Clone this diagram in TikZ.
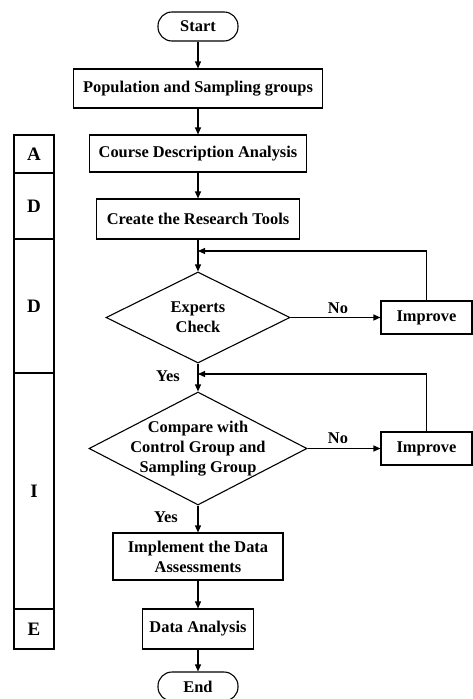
\documentclass[tikz,border=0pt]{standalone}
\usepackage{fontspec}
\setmainfont{Liberation Serif}
\usetikzlibrary{shapes.geometric,arrows.meta}
\tikzset{
  txt/.style={font=\bfseries\fontsize{16.4}{20}\selectfont},
  box/.style={draw, txt, line width=1.1pt, align=center, inner sep=2pt},
  term/.style={box, rounded corners=14pt, minimum width=80pt, minimum height=29pt},
  decision/.style={draw, diamond, txt, line width=1.1pt, align=center, inner sep=-8pt, aspect=1.95},
  phase/.style={draw, line width=1.4pt, minimum width=40pt, font=\bfseries\fontsize{19}{20}\selectfont},
  flow/.style={-{Triangle[length=7pt,width=6pt]}, line width=1.1pt}
}
\begin{document}
\begin{tikzpicture}[x=1pt, y=-1pt]
        \useasboundingbox (0,0) rectangle (473,699);

        % main column
        \draw (198, 26.5) node[term] (start) {Start};
        \draw (198, 88.5) node[box, minimum width=249pt, minimum height=39pt] (pop) {Population and Sampling groups};
        \draw (198, 153.5) node[box, minimum width=217pt, minimum height=37pt] (course) {Course Description Analysis};
        \draw (198, 219) node[box, minimum width=203pt, minimum height=40pt] (tools) {Create the Research Tools};
        \draw (198, 317.5) node[decision, minimum width=184pt, minimum height=91pt] (check) {Experts\\Check};
        \draw (198, 448.5) node[decision, minimum width=218pt, minimum height=113pt] (compare) {Compare with\\Control Group and\\Sampling Group};
        \draw (198, 556.5) node[box, minimum width=170pt, minimum height=47pt] (impl) {Implement the Data\\Assessments};
        \draw (198, 629) node[box, minimum width=111pt, minimum height=40pt] (data) {Data Analysis};
        \draw (198, 686.5) node[term] (end) {End};

        % feedback
        \draw (426.5, 317.5) node[box, minimum width=91pt, minimum height=33pt] (imp1) {Improve};
        \draw (426.5, 448.5) node[box, minimum width=91pt, minimum height=33pt] (imp2) {Improve};
        \coordinate (j1) at (198, 251);
        \coordinate (j2) at (198, 374);

        % phases
        \draw (34, 154) node[phase, minimum height=38pt] (pa) {A};
        \draw (34, 206) node[phase, minimum height=66pt] (pd1) {D};
        \draw (34, 306) node[phase, minimum height=134pt] (pd2) {D};
        \draw (34, 491) node[phase, minimum height=236pt] (pi) {I};
        \draw (34, 629) node[phase, minimum height=40pt] (pe) {E};

        \draw[flow] (start) -- (pop);
        \draw[flow] (pop) -- (course);
        \draw[flow] (course) -- (tools);
        \draw[flow] (tools) -- (check);
        \draw[flow] (check) -- (compare);
        \draw[flow] (compare) -- (impl);
        \draw[flow] (impl) -- (data);
        \draw[flow] (data) -- (end);

        \draw[flow] (check) -- (imp1);
        \draw[flow] (compare) -- (imp2);
        \draw[flow] (imp1) |- (j1);
        \draw[flow] (imp2) |- (j2);

        \draw (338, 308) node[txt] (no1) {No};
        \draw (338, 438) node[txt] (no2) {No};
        \draw (168, 376) node[txt] (yes1) {Yes};
        \draw (166, 517) node[txt] (yes2) {Yes};
    \end{tikzpicture}
\end{document}
